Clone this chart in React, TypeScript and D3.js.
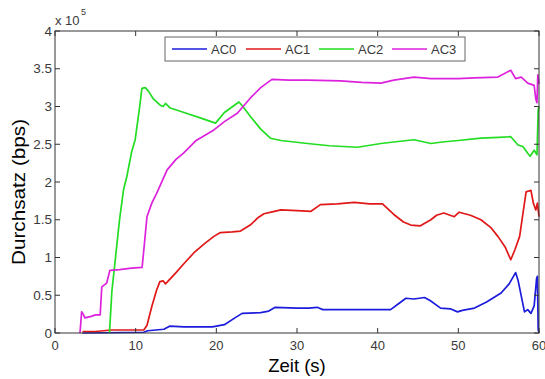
import React from "react";
import * as d3 from "d3";

const seriesNames = ["AC0", "AC1", "AC2", "AC3"];
const seriesColors = ["#1c1cdc", "#e01818", "#22dd22", "#dd22dd"];

const ac0T = [3.4, 11, 11.5, 12.5, 13.5, 14.2, 16, 18, 19.5, 20.5, 21.0, 22.3, 23.2, 25.5, 26.5, 27.3, 30, 31.5, 32.5, 33.2, 36, 41.6, 42.5, 43.5, 44.5, 45.8, 46.5, 47.8, 49, 49.9, 50.5, 52, 53.5, 55.3, 56.3, 57.1, 57.4, 58.2, 58.6, 59.0, 59.4, 59.7, 59.8, 59.9, 60];
const ac0V = [0, 0.01, 0.03, 0.04, 0.05, 0.09, 0.08, 0.08, 0.08, 0.1, 0.11, 0.2, 0.26, 0.27, 0.29, 0.34, 0.33, 0.33, 0.34, 0.31, 0.31, 0.31, 0.38, 0.46, 0.45, 0.47, 0.43, 0.33, 0.32, 0.28, 0.3, 0.33, 0.41, 0.53, 0.65, 0.8, 0.7, 0.28, 0.31, 0.26, 0.36, 0.72, 0.75, 0.05, 0];

const ac1T = [3.4, 5, 6, 7, 9, 11.0, 11.4, 12, 12.6, 13.0, 13.4, 13.7, 15, 16, 17.2, 18.5, 19.7, 20.5, 22, 23, 24.2, 25.2, 25.9, 26.8, 28, 30, 31.7, 32.9, 35, 37.1, 39, 40.6, 42, 43.2, 44.1, 45.3, 46.6, 47.3, 48.2, 49.5, 50.1, 51.5, 52.8, 54, 54.9, 55.8, 56.5, 57.0, 57.6, 58.4, 59.0, 59.3, 59.6, 59.8, 60];
const ac1V = [0.02, 0.02, 0.03, 0.04, 0.04, 0.04, 0.1, 0.35, 0.57, 0.68, 0.69, 0.65, 0.8, 0.92, 1.06, 1.18, 1.28, 1.33, 1.34, 1.35, 1.43, 1.53, 1.58, 1.6, 1.63, 1.62, 1.61, 1.7, 1.71, 1.73, 1.71, 1.71, 1.57, 1.47, 1.43, 1.42, 1.5, 1.56, 1.59, 1.54, 1.6, 1.56, 1.5, 1.4, 1.28, 1.14, 0.97, 1.1, 1.28, 1.87, 1.89, 1.72, 1.63, 1.72, 1.54];

const ac2T = [6.75, 7.05, 7.5, 8.0, 8.5, 8.9, 9.5, 9.94, 10.5, 10.77, 11.2, 11.6, 12.2, 13.0, 13.4, 13.7, 14.3, 16, 18, 19.9, 21, 22.8, 23.3, 24.2, 25.5, 26.7, 28, 31.3, 34, 37.5, 40.4, 42, 44.5, 46.6, 48, 50, 52.8, 55, 56.5, 57.4, 58.0, 58.6, 58.9, 59.4, 59.75, 59.9, 60];
const ac2V = [0, 0.55, 1.0, 1.5, 1.9, 2.07, 2.4, 2.56, 3.0, 3.24, 3.25, 3.2, 3.1, 3.02, 3.0, 3.04, 2.98, 2.92, 2.85, 2.78, 2.92, 3.06, 3.0, 2.87, 2.7, 2.58, 2.55, 2.51, 2.48, 2.46, 2.51, 2.53, 2.56, 2.51, 2.53, 2.55, 2.58, 2.59, 2.6, 2.49, 2.47, 2.38, 2.34, 2.42, 2.36, 2.95, 3.0];

const ac3T = [3.1, 3.3, 3.5, 3.7, 4.5, 5.0, 5.6, 5.8, 6.4, 6.8, 8, 9.5, 10.8, 11.1, 11.4, 12.0, 12.6, 13.9, 15, 15.9, 17.5, 19.7, 21, 22.6, 24.2, 25.5, 26.9, 29, 31.3, 35.4, 38, 40.4, 42, 44.5, 46.6, 50, 52, 54.9, 56.5, 57.1, 57.8, 58.6, 59.4, 59.6, 59.75, 59.85, 60];
const ac3V = [0, 0.28, 0.25, 0.2, 0.22, 0.24, 0.24, 0.61, 0.66, 0.83, 0.84, 0.86, 0.87, 1.2, 1.54, 1.72, 1.85, 2.16, 2.3, 2.38, 2.55, 2.69, 2.8, 2.91, 3.11, 3.25, 3.36, 3.35, 3.35, 3.34, 3.32, 3.31, 3.35, 3.39, 3.37, 3.37, 3.38, 3.39, 3.48, 3.37, 3.39, 3.31, 3.28, 3.1, 3.05, 3.42, 3.3];

const xTicks = [0, 10, 20, 30, 40, 50, 60];
const yTicks = [0, 0.5, 1, 1.5, 2, 2.5, 3, 3.5, 4];
const yTickLabels = ["0", "0.5", "1", "1.5", "2", "2.5", "3", "3.5", "4"];

const W = 545;
const H = 379;
const left = 55;
const right = 539;
const top = 31;
const bottom = 333;

export default function App() {
  const x = d3.scaleLinear().domain([0, 60]).range([left, right]);
  const y = d3.scaleLinear().domain([0, 4]).range([bottom, top]);
  const line = d3
    .line<[number, number]>()
    .x((d) => x(d[0]))
    .y((d) => y(d[1]));

  const series = [
    [ac0T, ac0V],
    [ac1T, ac1V],
    [ac2T, ac2V],
    [ac3T, ac3V],
  ].map(([t, v]) => t.map((tt, i) => [tt, v[i]] as [number, number]));

  const font = "'Liberation Sans', Arial, sans-serif";
  const tickLen = 5;
  const axisColor = "#333";
  const labelColor = "#3a3a3a";

  const legendX = [172, 246, 319, 392];

  return (
    <svg
      width={W}
      height={H}
      style={{ position: "absolute", left: 0, top: 0, background: "#fff" }}
      fontFamily={font}
    >
      <rect x={0} y={0} width={W} height={H} fill="#fff" />
      <defs>
        <clipPath id="plotclip">
          <rect x={left} y={top - 2} width={right - left + 1} height={bottom - top + 3} />
        </clipPath>
      </defs>
      {series.map((s, i) => (
        <path
          key={i}
          d={line(s) || ""}
          fill="none"
          stroke={seriesColors[i]}
          strokeWidth={1.7}
          strokeLinejoin="round"
          clipPath="url(#plotclip)"
        />
      ))}
      {/* frame */}
      <rect x={left} y={top} width={right - left} height={bottom - top} fill="none" stroke={axisColor} strokeWidth={1} />
      {/* x ticks */}
      {xTicks.map((t) => (
        <g key={"x" + t}>
          <line x1={x(t)} x2={x(t)} y1={bottom} y2={bottom - tickLen} stroke={axisColor} />
          <line x1={x(t)} x2={x(t)} y1={top} y2={top + tickLen} stroke={axisColor} />
          <text x={x(t)} y={350} textAnchor="middle" fontSize={13} fill={labelColor}>
            {t}
          </text>
        </g>
      ))}
      {/* y ticks */}
      {yTicks.map((t, i) => (
        <g key={"y" + t}>
          <line x1={left} x2={left + tickLen} y1={y(t)} y2={y(t)} stroke={axisColor} />
          <line x1={right} x2={right - tickLen} y1={y(t)} y2={y(t)} stroke={axisColor} />
          <text x={52} y={y(t) + 4.7} textAnchor="end" fontSize={13.5} fill={labelColor}>
            {yTickLabels[i]}
          </text>
        </g>
      ))}
      {/* exponent */}
      <text x={55} y={25} fontSize={13} fill={labelColor}>
        x 10
      </text>
      <text x={81} y={15} fontSize={9} fill={labelColor}>
        5
      </text>
      {/* axis labels */}
      <text x={(left + right) / 2} y={372} textAnchor="middle" fontSize={18.5} fill="#000">
        Zeit (s)
      </text>
      <text
        transform={`translate(25,${192}) rotate(-90) scale(1.12,1)`}
        textAnchor="middle"
        fontSize={18.5}
        fill="#000"
      >
        Durchsatz (bps)
      </text>
      {/* legend */}
      <rect x={165} y={37} width={300} height={24} fill="#fff" stroke="#666" strokeWidth={1} />
      {seriesNames.map((n, i) => (
        <g key={n}>
          <line x1={legendX[i]} x2={legendX[i] + 35} y1={49} y2={49} stroke={seriesColors[i]} strokeWidth={1.7} />
          <text x={legendX[i] + 39} y={54} fontSize={13} fill={labelColor}>
            {n}
          </text>
        </g>
      ))}
    </svg>
  );
}
